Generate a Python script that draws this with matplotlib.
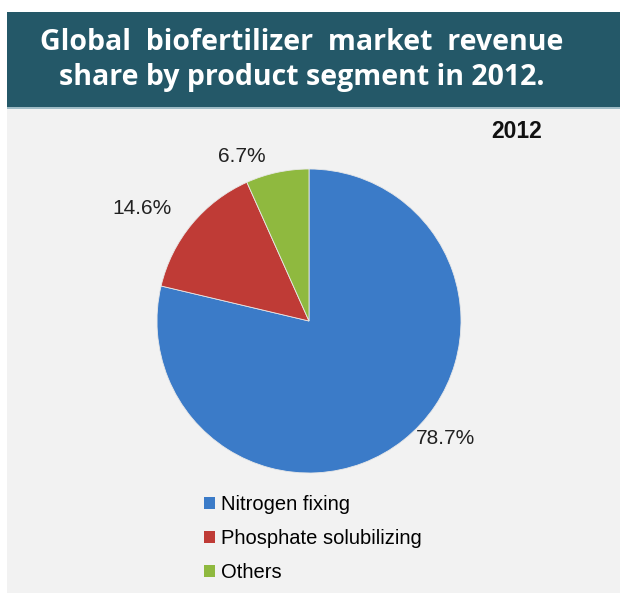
import matplotlib.pyplot as plt
from matplotlib.patches import Rectangle

segments = ['Nitrogen fixing', 'Phosphate solubilizing', 'Others']
shares = [78.7, 14.6, 6.7]
colors = ['#3b7bc8', '#bf3b36', '#8fb93f']
# where Excel put the percentage labels (data units of the pie axes)
label_pos = [(0.90, -0.77), (-1.10, 0.74), (-0.44, 1.08)]

W, H = 620, 593
fig = plt.figure(figsize=(W / 100, H / 100), dpi=100)
fig.patch.set_facecolor('white')


def fx(px):
    return px / W


def fy(py):
    return 1 - py / H


# gray panel and title band
fig.patches.append(Rectangle((fx(7), 0), fx(613), fy(108), transform=fig.transFigure,
                             facecolor='#f2f2f2', edgecolor='none', zorder=-5))
fig.patches.append(Rectangle((fx(7), fy(107)), fx(613), fy(12) - fy(107), transform=fig.transFigure,
                             facecolor='#245868', edgecolor='none', zorder=-5))
fig.patches.append(Rectangle((fx(7), fy(109)), fx(613), fy(107) - fy(109), transform=fig.transFigure,
                             facecolor='#9fbcc6', edgecolor='none', zorder=-5))

fig.text(fx(302), fy(42), 'Global  biofertilizer  market  revenue', color='white',
         fontsize=20.5, fontweight='bold', family='Open Sans', ha='center', va='center')
fig.text(fx(302), fy(77), 'share by product segment in 2012.', color='white',
         fontsize=20.5, fontweight='bold', family='Open Sans', ha='center', va='center')
fig.text(fx(517), fy(132), '2012', fontsize=16.5, fontweight='bold', ha='center', va='center',
         family='Liberation Sans', color='#111111')

# pie
cx, cy, r = 309, 321, 152
ax = fig.add_axes([fx(cx - r), fy(cy + r), fx(2 * r), fy(cy - r) - fy(cy + r)])
ax.set_zorder(1)
wedges, texts, autotexts = ax.pie(shares, colors=colors, startangle=90, counterclock=False,
                                  autopct='%1.1f%%', pctdistance=1.2, radius=1,
                                  wedgeprops=dict(linewidth=0.6, edgecolor='#e8e8e8'),
                                  textprops=dict(fontsize=15, family='Liberation Sans', color='#222222'))
for t, p in zip(autotexts, label_pos):
    t.set_position(p)
ax.set_xlim(-1, 1)
ax.set_ylim(-1, 1)
ax.set_aspect('equal')
ax.axis('off')

# legend
leg = fig.legend(wedges, segments, loc='upper left', bbox_to_anchor=(fx(186), fy(477)),
                 frameon=False, handlelength=0.55, handleheight=0.55, handletextpad=0.3,
                 labelspacing=0.75, prop=dict(family='Liberation Sans', size=14.5))
for h in leg.legend_handles:
    h.set_edgecolor('none')

fig.savefig('out.png', dpi=100)
